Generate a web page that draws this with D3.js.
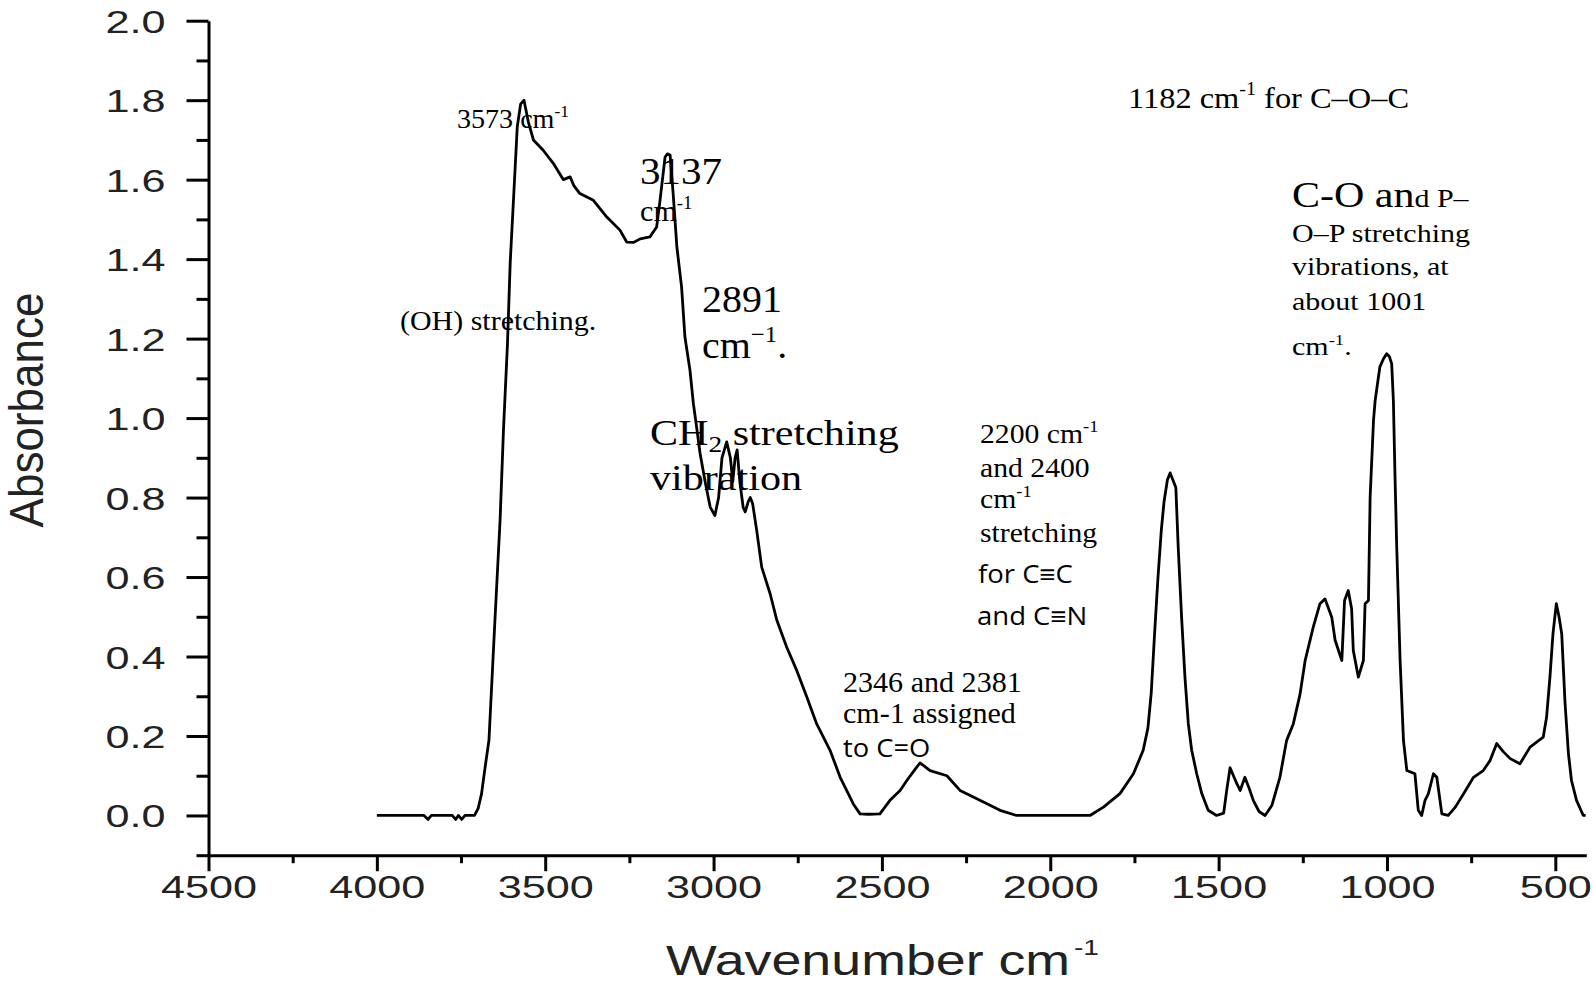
<!DOCTYPE html>
<html>
<head>
<meta charset="utf-8">
<script src="https://cdn.jsdelivr.net/npm/d3@7"></script>
<style>
html, body { margin: 0; padding: 0; background: #fff; }
svg { display: block; }
</style>
</head>
<body>
<svg id="chart" width="1594" height="986"></svg>
<script>
// ---------------- DATA ----------------
const wavenumbers = [
  4000, 3860, 3848, 3838, 3776, 3766, 3758, 3748, 3738, 3710,
  3699, 3689, 3679, 3667, 3650, 3634, 3624, 3612, 3604, 3593,
  3583, 3573, 3563, 3550, 3535, 3506, 3476, 3446, 3426, 3415,
  3397, 3357, 3317, 3278, 3258, 3238, 3218, 3189, 3169, 3159,
  3144, 3137, 3129, 3120, 3109, 3095, 3085, 3070, 3060, 3050,
  3040, 3025, 3010, 2996, 2985, 2975, 2961, 2950, 2943, 2936,
  2930, 2922, 2912, 2906, 2897, 2891, 2884, 2872, 2857, 2832,
  2812, 2783, 2753, 2723, 2694, 2654, 2624, 2600, 2585, 2565,
  2540, 2506, 2476, 2446, 2426, 2400, 2387, 2375, 2357, 2307,
  2268, 2209, 2149, 2100, 1882, 1842, 1793, 1753, 1724, 1710,
  1700, 1690, 1680, 1670, 1662, 1652, 1644, 1636, 1627, 1620,
  1610, 1600, 1590, 1580, 1565, 1550, 1531, 1506, 1485, 1476,
  1466, 1456, 1446, 1436, 1422, 1410, 1397, 1380, 1362, 1342,
  1318, 1298, 1278, 1258, 1243, 1219, 1199, 1184, 1164, 1154,
  1134, 1126, 1115, 1105, 1100, 1085, 1070, 1065, 1055, 1050,
  1040, 1035, 1021, 1010, 1001, 993, 986, 981, 976, 971,
  961, 951, 941, 917, 907, 897, 887, 877, 862, 852,
  837, 818, 797, 772, 743, 714, 694, 674, 654, 634,
  605, 575, 536, 526, 516, 507, 497, 489, 481, 471,
  461, 452, 437, 417, 410
];
const absorbance = [
  0.000, 0.000, -0.010, 0.000, 0.000, -0.010, 0.000, -0.010, 0.000, 0.000,
  0.018, 0.055, 0.118, 0.190, 0.480, 0.743, 0.969, 1.188, 1.390, 1.569,
  1.733, 1.790, 1.800, 1.745, 1.700, 1.674, 1.641, 1.600, 1.607, 1.585,
  1.565, 1.548, 1.506, 1.473, 1.443, 1.442, 1.451, 1.456, 1.481, 1.548,
  1.657, 1.665, 1.662, 1.565, 1.431, 1.330, 1.204, 1.120, 1.037, 0.975,
  0.911, 0.840, 0.776, 0.755, 0.800, 0.900, 0.940, 0.900, 0.840, 0.900,
  0.920, 0.840, 0.775, 0.764, 0.790, 0.800, 0.785, 0.718, 0.625, 0.558,
  0.491, 0.424, 0.365, 0.298, 0.231, 0.164, 0.096, 0.055, 0.029, 0.004,
  0.003, 0.004, 0.038, 0.063, 0.088, 0.118, 0.132, 0.125, 0.113, 0.100,
  0.063, 0.038, 0.013, 0.000, 0.000, 0.021, 0.055, 0.105, 0.164, 0.220,
  0.310, 0.460, 0.600, 0.720, 0.790, 0.845, 0.862, 0.845, 0.825, 0.675,
  0.499, 0.348, 0.231, 0.164, 0.105, 0.055, 0.013, 0.000, 0.006, 0.063,
  0.120, 0.100, 0.080, 0.063, 0.096, 0.070, 0.038, 0.010, 0.000, 0.025,
  0.096, 0.189, 0.231, 0.306, 0.390, 0.474, 0.533, 0.545, 0.499, 0.441,
  0.390, 0.541, 0.566, 0.520, 0.415, 0.348, 0.390, 0.533, 0.541, 0.801,
  0.994, 1.045, 1.129, 1.150, 1.162, 1.155, 1.137, 1.045, 0.850, 0.675,
  0.390, 0.189, 0.113, 0.105, 0.013, 0.000, 0.038, 0.055, 0.105, 0.096,
  0.004, 0.000, 0.021, 0.055, 0.096, 0.113, 0.138, 0.181, 0.160, 0.143,
  0.130, 0.172, 0.197, 0.247, 0.348, 0.457, 0.533, 0.500, 0.457, 0.281,
  0.155, 0.088, 0.038, 0.000, 0.000
];
const yTickValues = [0.0, 0.2, 0.4, 0.6, 0.8, 1.0, 1.2, 1.4, 1.6, 1.8, 2.0];
const yTickLabels = ["0.0", "0.2", "0.4", "0.6", "0.8", "1.0", "1.2", "1.4", "1.6", "1.8", "2.0"];
const yMinorTicks = [-0.1, 0.1, 0.3, 0.5, 0.7, 0.9, 1.1, 1.3, 1.5, 1.7, 1.9];
const xTickValues = [4500, 4000, 3500, 3000, 2500, 2000, 1500, 1000, 500];
const xTickLabels = ["4500", "4000", "3500", "3000", "2500", "2000", "1500", "1000", "500"];
const xMinorTicks = [4250, 3750, 3250, 2750, 2250, 1750, 1250, 750];
const xDomain = [4500, 408];
const yDomain = [-0.1, 2.0];
const xTitle = "Wavenumber cm";
const yTitle = "Absorbance";

// ---------------- LAYOUT ----------------
const svg = d3.select("#chart");
const x = d3.scaleLinear().domain(xDomain).range([208.5, 1586.3]);
const y = d3.scaleLinear().domain(yDomain).range([855.2, 20.7]);
const axisFont = '"Liberation Sans", Arial, sans-serif';
const serif = '"Liberation Serif", "Times New Roman", serif';
const sans = '"Open Sans", "Noto Sans", sans-serif';

// Y axis
const yAxisG = svg.append("g").attr("transform", `translate(${x(4500)},0)`);
yAxisG.call(d3.axisLeft(y).tickValues(yTickValues).tickSize(22).tickSizeOuter(0)
  .tickFormat((d, i) => yTickLabels[i]));
yAxisG.append("g").call(d3.axisLeft(y).tickValues(yMinorTicks).tickSize(12).tickFormat(""))
  .call(g => g.select(".domain").remove());
yAxisG.selectAll("path, line").attr("stroke", "#000").attr("stroke-width", 3);
yAxisG.selectAll("text")
  .attr("x", null).attr("dy", null)
  .attr("transform", "translate(-43,11.5) scale(1.35,1)")
  .attr("font-size", 32).attr("font-family", axisFont).attr("fill", "#222");

// X axis
const xAxisG = svg.append("g").attr("transform", `translate(0,${y(-0.1)})`);
xAxisG.call(d3.axisBottom(x).tickValues(xTickValues).tickSize(16).tickSizeOuter(0)
  .tickFormat((d, i) => xTickLabels[i]));
xAxisG.append("g").call(d3.axisBottom(x).tickValues(xMinorTicks).tickSize(8).tickFormat(""))
  .call(g => g.select(".domain").remove());
xAxisG.selectAll("path, line").attr("stroke", "#000").attr("stroke-width", 3);
xAxisG.selectAll("text")
  .attr("y", null).attr("dy", null)
  .attr("transform", "translate(0,43) scale(1.35,1)")
  .attr("font-size", 32).attr("font-family", axisFont).attr("fill", "#222");
svg.selectAll(".domain").attr("fill", "none");

// Axis titles
svg.append("text")
  .attr("transform", "translate(43,410) scale(1.1,1) rotate(-90)")
  .attr("text-anchor", "middle").attr("font-size", 44)
  .attr("font-family", axisFont).attr("fill", "#222").text(yTitle);
const xt = svg.append("text")
  .attr("transform", "translate(666,975) scale(1.28,1)")
  .attr("font-size", 42).attr("font-family", axisFont).attr("fill", "#222");
xt.append("tspan").text(xTitle);
xt.append("tspan").attr("font-size", 22).attr("dy", -20).attr("dx", 3).text("-1");

// Spectrum line
const pts = wavenumbers.map((w, i) => [w, absorbance[i]]);
svg.append("path").datum(pts)
  .attr("fill", "none").attr("stroke", "#000").attr("stroke-width", 2.8)
  .attr("stroke-linejoin", "round")
  .attr("d", d3.line().x(d => x(d[0])).y(d => y(d[1])));

// Annotations
function label(xp, yp, size, sx, family, parts) {
  const t = svg.append("text")
    .attr("transform", `translate(${xp},${yp}) scale(${sx},1)`)
    .attr("font-family", family).attr("font-size", size).attr("fill", "#000");
  let shift = 0;
  parts.forEach(p => {
    const s = typeof p === "string" ? { t: p } : p;
    const ts = t.append("tspan").text(s.t);
    let target = 0;
    if (s.sup) { ts.attr("font-size", size * 0.62); target = -size * 0.42; }
    else if (s.sub) { ts.attr("font-size", size * 0.65); target = size * 0.2; }
    else if (s.size) { ts.attr("font-size", s.size); }
    ts.attr("dy", target - shift);
    shift = target;
  });
  return t;
}
label(457, 128, 27, 1.04, serif, ["3573 cm", { t: "-1", sup: true }]);
label(640, 184, 38, 1.08, serif, ["3137"]);
label(640, 221, 29, 1.04, serif, ["cm", { t: "-1", sup: true }]);
label(702, 312, 37, 1.08, serif, ["2891"]);
label(702, 358, 37, 1.08, serif, ["cm", { t: "\u22121", sup: true }, "."]);
label(400, 330, 28, 1.07, serif, ["(OH) stretching."]);
label(650, 445, 36, 1.17, serif, ["CH", { t: "2", sub: true }, " stretching"]);
label(650, 490, 36, 1.17, serif, ["vibration"]);
label(843, 692, 29.5, 1.02, serif, ["2346 and 2381"]);
label(843, 723, 29.5, 1.02, serif, ["cm-1 assigned"]);
label(843, 757, 26, 1.05, sans, ["to C=O"]);
label(980, 443, 27, 1.1, serif, ["2200 cm", { t: "-1", sup: true }]);
label(980, 477, 27, 1.1, serif, ["and 2400"]);
label(980, 508, 27, 1.1, serif, ["cm", { t: "-1", sup: true }]);
label(980, 542, 27, 1.1, serif, ["stretching"]);
label(978, 583, 25, 1.1, sans, ["for C\u2261C"]);
label(977, 625, 25, 1.1, sans, ["and C\u2261N"]);
label(1128, 108, 30, 1.08, serif, ["1182 cm", { t: "-1", sup: true }, " for C\u2013O\u2013C"]);
label(1292, 207, 25, 1.2, serif, [{ t: "C-O an", size: 35 }, "d P\u2013"]);
label(1292, 242, 25, 1.2, serif, ["O\u2013P stretching"]);
label(1292, 275, 25, 1.2, serif, ["vibrations, at"]);
label(1292, 310, 25, 1.2, serif, ["about 1001"]);
label(1292, 355, 25, 1.2, serif, ["cm", { t: "-1", sup: true }, "."]);
</script>
</body>
</html>
